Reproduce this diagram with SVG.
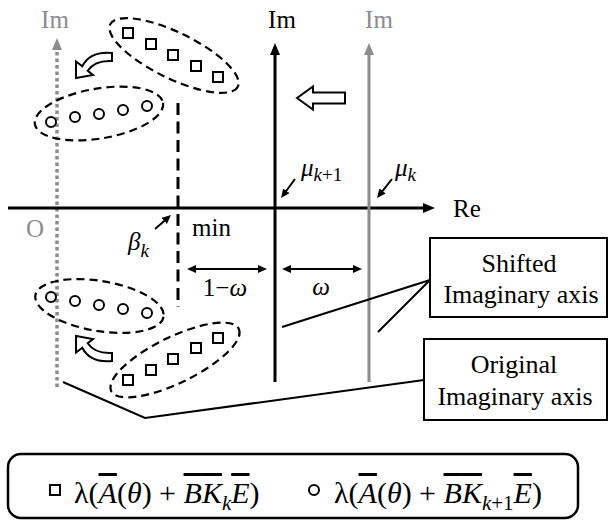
<svg xmlns="http://www.w3.org/2000/svg" width="609" height="520" viewBox="0 0 609 520">
<style>
text{font-family:"Liberation Serif","DejaVu Serif","Noto Serif",serif;fill:#000}
.lb{font-size:25px}
.gr{fill:#8c8c8c}
.i{font-style:italic}
.sub{font-size:19px}
.bx{font-size:26px;text-anchor:middle}
.lg{font-size:30px}
.ov{text-decoration:overline}
.ax{stroke:#000;stroke-width:3;fill:none}
.gax{stroke:#8c8c8c;stroke-width:3;fill:none}
.dell{fill:none;stroke:#000;stroke-width:2.2;stroke-dasharray:8 5}
.sq{fill:#fff;stroke:#000;stroke-width:2}
.ci{fill:#fff;stroke:#000;stroke-width:2}
.ln{stroke:#000;stroke-width:2;fill:none}
.box{fill:#fff;stroke:#000;stroke-width:2}
.hol{fill:#fff;stroke:#000;stroke-width:2;stroke-linejoin:miter}
</style>
<defs>
<marker id="ahb" markerUnits="userSpaceOnUse" markerWidth="13" markerHeight="11" refX="4" refY="5" orient="auto"><path d="M0,0 L12,5 L0,10 z" fill="#000"/></marker>
<marker id="ahg" markerUnits="userSpaceOnUse" markerWidth="13" markerHeight="11" refX="4" refY="5" orient="auto"><path d="M0,0 L12,5 L0,10 z" fill="#8c8c8c"/></marker>
<marker id="sa" markerUnits="userSpaceOnUse" markerWidth="10" markerHeight="9" refX="3" refY="4" orient="auto-start-reverse"><path d="M0,0 L9,4 L0,8 z" fill="#000"/></marker>
</defs>

<g id="axes">
<g id="original-axis">
<line x1="57" y1="387" x2="57" y2="46" stroke="#8c8c8c" stroke-width="3.5" stroke-dasharray="3.5 3" marker-end="url(#ahg)"/>
<text class="lb gr" x="55" y="28" text-anchor="middle">Im</text>
<text class="lb gr" x="35" y="237" text-anchor="middle">O</text>
</g>
<g id="re-axis">
<line class="ax" x1="8" y1="208" x2="427" y2="208" marker-end="url(#ahb)"/>
<text class="lb" x="453" y="217">Re</text>
</g>
<g id="shifted-axis">
<line class="ax" x1="275" y1="382" x2="275" y2="51" marker-end="url(#ahb)"/>
<text class="lb" x="282" y="28" text-anchor="middle">Im</text>
</g>
<g id="gray-axis">
<line class="gax" x1="369" y1="382" x2="369" y2="51" marker-end="url(#ahg)"/>
<text class="lb gr" x="379" y="28" text-anchor="middle">Im</text>
</g>
<g id="min-line">
<line x1="178" y1="103" x2="178" y2="307" stroke="#000" stroke-width="3" stroke-dasharray="12 6.5"/>
<text class="lb" x="192" y="236">min</text>
</g>
</g>

<g id="squares-upper">
<ellipse class="dell" cx="174" cy="55.5" rx="71" ry="23" transform="rotate(26 174 55.5)"/>
<rect class="sq" x="123" y="28" width="10" height="10"/>
<rect class="sq" x="146" y="39" width="10" height="10"/>
<rect class="sq" x="168" y="50" width="10" height="10"/>
<rect class="sq" x="191" y="61" width="10" height="10"/>
<rect class="sq" x="213" y="72" width="10" height="10"/>
</g>
<g id="circles-upper">
<ellipse class="dell" cx="99" cy="113.5" rx="65" ry="25" transform="rotate(-9.5 99 113.5)"/>
<circle class="ci" cx="51" cy="122" r="5"/>
<circle class="ci" cx="75" cy="117" r="5"/>
<circle class="ci" cx="99" cy="114" r="5"/>
<circle class="ci" cx="123" cy="110" r="5"/>
<circle class="ci" cx="147" cy="106" r="5"/>
</g>
<g id="circles-lower">
<ellipse class="dell" cx="99.5" cy="306" rx="65" ry="25" transform="rotate(9.5 99.5 306)"/>
<circle class="ci" cx="51" cy="297" r="5"/>
<circle class="ci" cx="75" cy="301" r="5"/>
<circle class="ci" cx="99" cy="305" r="5"/>
<circle class="ci" cx="123" cy="309" r="5"/>
<circle class="ci" cx="147" cy="313" r="5"/>
</g>
<g id="squares-lower">
<ellipse class="dell" cx="175" cy="360" rx="71" ry="23" transform="rotate(-26 175 360)"/>
<rect class="sq" x="123" y="375" width="10" height="10"/>
<rect class="sq" x="146" y="365" width="10" height="10"/>
<rect class="sq" x="168" y="354" width="10" height="10"/>
<rect class="sq" x="191" y="343" width="10" height="10"/>
<rect class="sq" x="213" y="333" width="10" height="10"/>
</g>

<g id="move-arrows">
<path class="hol" d="M112,53 Q90,51 82.3,66.3 L76,61.5 L76,78 L93,75 L87.7,70.7 Q95,60 112,61 Z"/>
<path class="hol" d="M112,361 Q90,363 82.3,347.7 L76,352.5 L76,336 L93,339 L87.7,343.3 Q95,354 112,353 Z"/>
<path class="hol" d="M297,98 L313,86.5 L313,92.5 L345,92.5 L345,103.5 L313,103.5 L313,109.5 Z"/>
</g>

<g id="labels">
<text class="lb i" x="128" y="250">β<tspan class="sub" dy="7">k</tspan></text>
<text class="lb" x="225" y="296" text-anchor="middle">1−<tspan class="i">ω</tspan></text>
<text class="lb i" x="321" y="295" text-anchor="middle">ω</text>
<text class="lb i" x="301" y="176">μ<tspan class="sub" dy="5">k<tspan font-style="normal">+1</tspan></tspan></text>
<text class="lb i" x="395" y="176">μ<tspan class="sub" dy="5">k</tspan></text>
</g>

<g id="box-shifted">
<rect class="box" x="430" y="238" width="177" height="79"/>
<text class="bx" x="519" y="272">Shifted</text>
<text class="bx" x="521" y="303">Imaginary axis</text>
</g>
<g id="box-original">
<rect class="box" x="424" y="339" width="183" height="81"/>
<text class="bx" x="514" y="373">Original</text>
<text class="bx" x="515" y="405">Imaginary axis</text>
</g>

<g id="connectors">
<line class="ln" x1="155" y1="229" x2="166.5" y2="219" marker-end="url(#sa)"/>
<line class="ln" x1="295" y1="179" x2="284.6" y2="193.2" marker-end="url(#sa)"/>
<line class="ln" x1="392" y1="179" x2="380.7" y2="193.3" marker-end="url(#sa)"/>
<line class="ln" x1="193" y1="269" x2="261" y2="269" marker-start="url(#sa)" marker-end="url(#sa)"/>
<line class="ln" x1="288" y1="269" x2="356" y2="269" marker-start="url(#sa)" marker-end="url(#sa)"/>
<polyline class="ln" points="282,327 430,280 378,332"/>
<polyline class="ln" points="63,382 145,418 424,380"/>
</g>

<g id="legend">
<rect x="8" y="454" width="570" height="64" rx="13" fill="#fff" stroke="#000" stroke-width="2.5"/>
<rect class="sq" x="50" y="485" width="10" height="10"/>
<text class="lg" x="74" y="503">λ(<tspan class="i ov">A</tspan>(<tspan class="i">θ</tspan>) + <tspan class="i ov">B</tspan><tspan class="i ov">K</tspan><tspan class="i" font-size="21" dy="7">k</tspan><tspan class="i ov" dy="-7">E</tspan>)</text>
<circle class="ci" cx="314" cy="490" r="5"/>
<text class="lg" x="334" y="503">λ(<tspan class="i ov">A</tspan>(<tspan class="i">θ</tspan>) + <tspan class="i ov">B</tspan><tspan class="i ov">K</tspan><tspan font-size="21" dy="7"><tspan class="i">k</tspan>+1</tspan><tspan class="i ov" dy="-7">E</tspan>)</text>
</g>
</svg>
